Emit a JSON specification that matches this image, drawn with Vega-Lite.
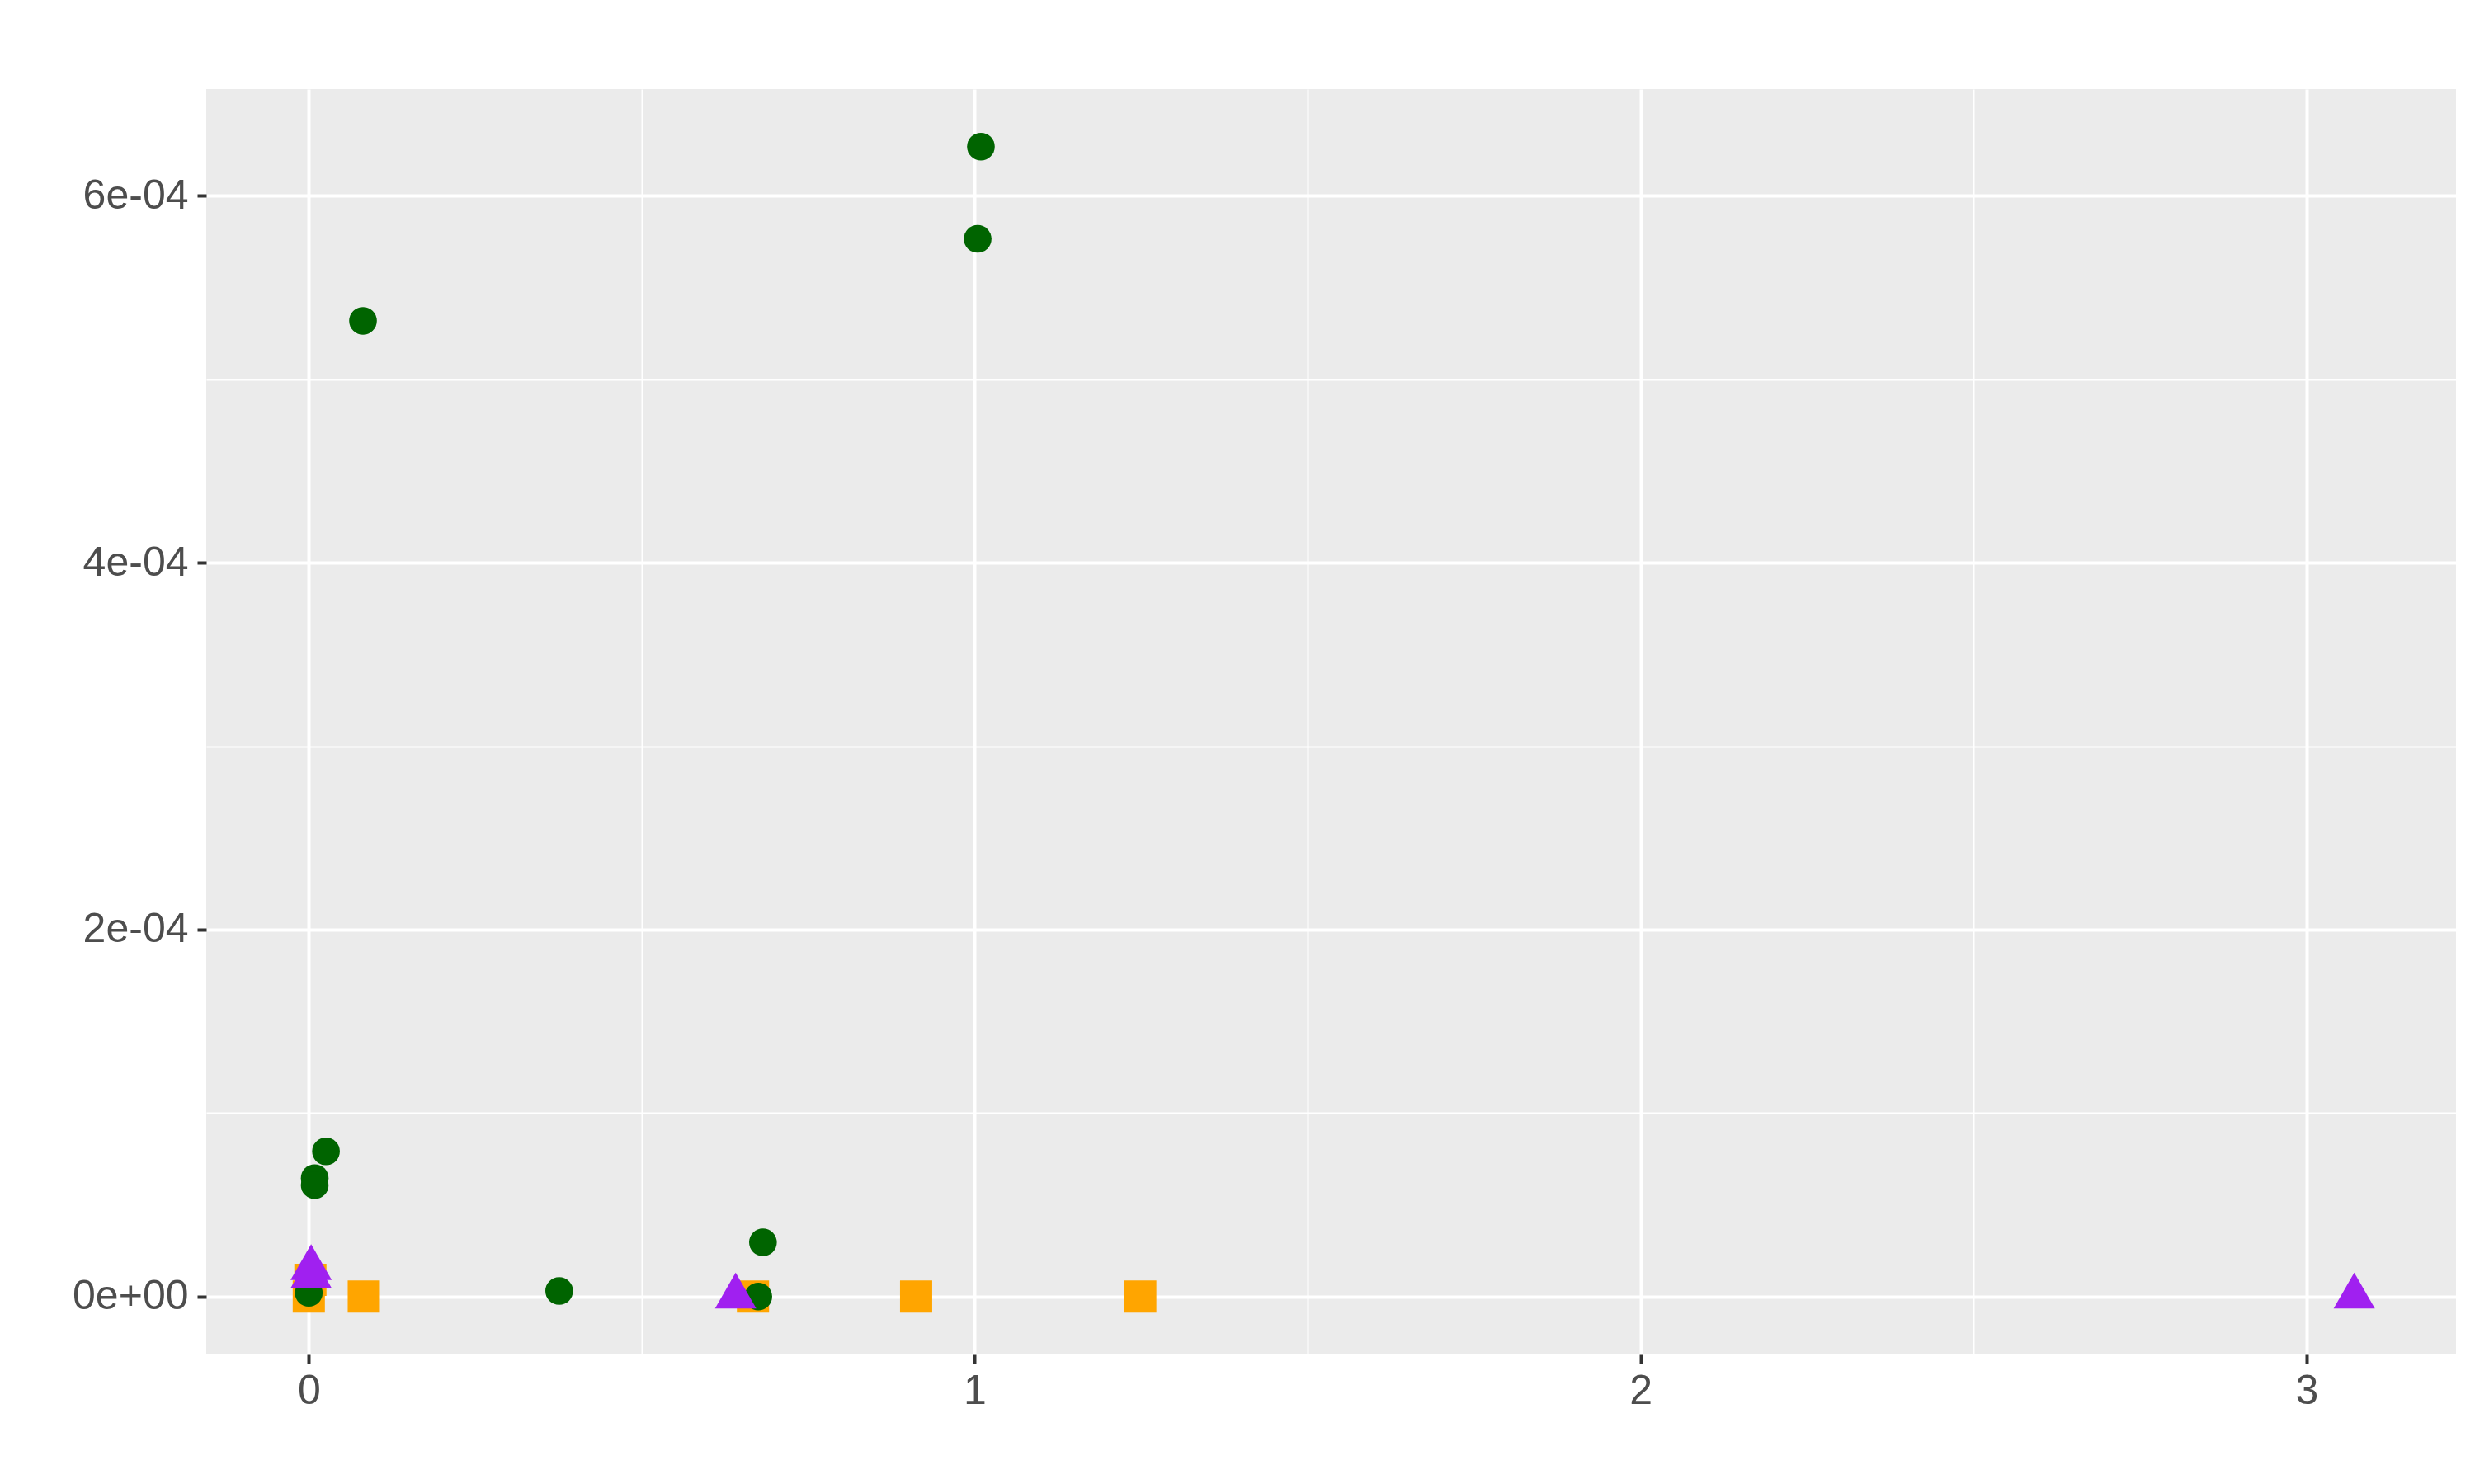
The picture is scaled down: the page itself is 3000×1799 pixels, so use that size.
{
  "$schema": "https://vega.github.io/schema/vega-lite/v6.json",
  "width": 2727,
  "height": 1534,
  "autosize": {"type": "none"},
  "padding": {"left": 250, "top": 108, "right": 23, "bottom": 157},
  "background": "white",
  "config": {
    "view": {"fill": "#EBEBEB", "stroke": null},
    "axis": {
      "domain": false,
      "grid": true,
      "gridColor": "#FFFFFF",
      "labelFont": "Liberation Sans",
      "labelFontSize": 50,
      "labelColor": "#4D4D4D",
      "tickColor": "#333333",
      "tickWidth": 4,
      "tickSize": 11,
      "title": null
    }
  },
  "data": {
    "values": [
      {"group": "g1", "x": 0, "y": 0},
      {"group": "g1", "x": 0.0024, "y": 0.0000091},
      {"group": "g1", "x": 0.0826, "y": 0},
      {"group": "g1", "x": 0.667, "y": 0},
      {"group": "g1", "x": 0.912, "y": 0},
      {"group": "g1", "x": 1.2486, "y": 0},
      {"group": "g2", "x": 1.0093, "y": 0.0006268},
      {"group": "g2", "x": 1.0044, "y": 0.0005765},
      {"group": "g2", "x": 0.0814, "y": 0.0005318},
      {"group": "g2", "x": 0.0258, "y": 0.0000791},
      {"group": "g2", "x": 0.0089, "y": 0.0000645},
      {"group": "g2", "x": 0.0089, "y": 0.0000607},
      {"group": "g2", "x": 0, "y": 0.000002},
      {"group": "g2", "x": 0.376, "y": 0.000003},
      {"group": "g2", "x": 0.682, "y": 0.0000295},
      {"group": "g2", "x": 0.675, "y": 0},
      {"group": "g3", "x": 0.0035, "y": 0.0000155},
      {"group": "g3", "x": 0.0035, "y": 0.000011},
      {"group": "g3", "x": 0.641, "y": 0},
      {"group": "g3", "x": 3.0716, "y": 0}
    ]
  },
  "mark": {"type": "point", "filled": true, "opacity": 1, "strokeWidth": 0},
  "encoding": {
    "x": {
      "field": "x",
      "type": "quantitative",
      "scale": {"domain": [-0.154, 3.2244], "nice": false, "zero": false},
      "axis": {
        "orient": "bottom",
        "values": [0, 0.5, 1, 1.5, 2, 2.5, 3],
        "gridWidth": {"condition": {"test": "abs(datum.value - round(datum.value)) < 0.01", "value": 4}, "value": 2},
        "tickOpacity": {"condition": {"test": "abs(datum.value - round(datum.value)) < 0.01", "value": 1}, "value": 0},
        "labelExpr": "abs(datum.value - round(datum.value)) < 0.01 ? format(datum.value, 'd') : ''",
        "labelPadding": 8
      }
    },
    "y": {
      "field": "y",
      "type": "quantitative",
      "scale": {"domain": [-0.00003161, 0.00065814], "nice": false, "zero": false},
      "axis": {
        "orient": "left",
        "values": [0, 0.0001, 0.0002, 0.0003, 0.0004, 0.0005, 0.0006],
        "gridWidth": {"condition": {"test": "round(datum.value * 10000) % 2 == 0", "value": 4}, "value": 2},
        "tickOpacity": {"condition": {"test": "round(datum.value * 10000) % 2 == 0", "value": 1}, "value": 0},
        "labelExpr": "round(datum.value * 10000) % 2 == 0 ? replace(replace(format(datum.value, '.0e'), 'e-', 'e-0'), 'e+', 'e+0') : ''",
        "labelPadding": 11
      }
    },
    "color": {
      "field": "group",
      "type": "nominal",
      "scale": {"domain": ["g1", "g2", "g3"], "range": ["#FFA500", "#006400", "#A020F0"]},
      "legend": null
    },
    "shape": {
      "field": "group",
      "type": "nominal",
      "scale": {"domain": ["g1", "g2", "g3"], "range": ["square", "circle", "M0,-1L0.866,0.5L-0.866,0.5Z"]},
      "legend": null
    },
    "size": {
      "field": "group",
      "type": "nominal",
      "scale": {"type": "ordinal", "domain": ["g1", "g2", "g3"], "range": [1521, 1130, 3341]},
      "legend": null
    }
  }
}
